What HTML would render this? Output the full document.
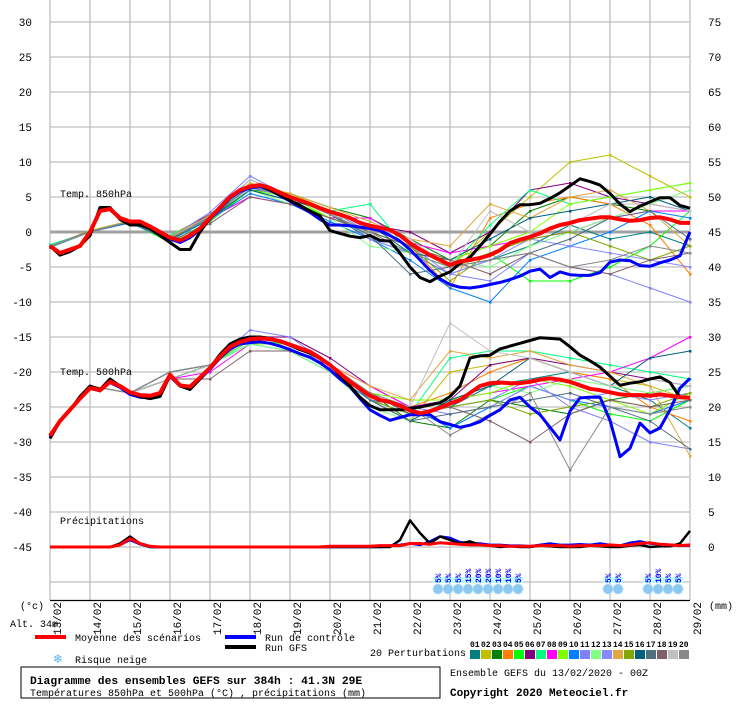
<!DOCTYPE html>
<html><head><meta charset="utf-8"><style>
body{margin:0;background:#fff;width:740px;height:700px;overflow:hidden}
svg text{font-family:"Liberation Mono",monospace;font-size:11px;fill:#000}
svg text.s{font-size:10px}
</style></head><body>
<svg id="chart" width="740" height="700" viewBox="0 0 740 700" xmlns="http://www.w3.org/2000/svg">
<g id="grid"></g>
<g id="yl"></g>
<g id="yr"></g>
<g id="xl"></g>
<g id="pert"></g>
<g id="main"></g>
<g id="snow"></g>
<text class="s" x="60" y="197">Temp. 850hPa</text>
<text class="s" x="60" y="375">Temp. 500hPa</text>
<text class="s" x="60" y="524">Précipitations</text>
<text class="s" x="20" y="609">(°c)</text>
<text class="s" x="10" y="627">Alt. 34m</text>
<text class="s" x="709" y="609">(mm)</text>
<g>
<rect x="35" y="635" width="31" height="4" fill="#ff0000"/>
<text class="s" x="75" y="641">Moyenne des scénarios</text>
<rect x="225" y="635" width="31" height="4" fill="#0000ff"/>
<text class="s" x="265" y="641">Run de contrôle</text>
<rect x="225" y="645" width="31" height="4" fill="#000"/>
<text class="s" x="265" y="651">Run GFS</text>
<text x="53" y="663" style="font-family:'DejaVu Sans';font-size:12px;fill:#5ab0f0">❄</text>
<text class="s" x="75" y="663">Risque neige</text>
<text class="s" x="370" y="656">20 Perturbations</text>
<g id="pbox"></g>
</g>
<rect x="21" y="667" width="419" height="31" fill="none" stroke="#000"/>
<text x="30" y="684" style="font-weight:bold;font-size:11.3px">Diagramme des ensembles GEFS sur 384h : 41.3N 29E</text>
<text class="s" x="30" y="696">Températures 850hPa et 500hPa (°C) , précipitations (mm)</text>
<text class="s" x="450" y="676">Ensemble GEFS du 13/02/2020 - 00Z</text>
<text x="450" y="696" style="font-weight:bold;font-size:11px">Copyright 2020 Meteociel.fr</text>
</svg>
<script>
const dates=["13/02","14/02","15/02","16/02","17/02","18/02","19/02","20/02","21/02","22/02","23/02","24/02","25/02","26/02","27/02","28/02","29/02"];
const leftTicks=[30,25,20,15,10,5,0,-5,-10,-15,-20,-25,-30,-35,-40,-45];
const rightTicks=[75,70,65,60,55,50,45,40,35,30,25,20,15,10,5,0];
const colors=["#008080","#c0c000","#008000","#ff8000","#00ff00","#800080","#00ff80","#ff00ff","#80ff00","#0080ff","#8080ff","#80ff80","#8888ff","#e0a840","#80a800","#006080","#507080","#806068","#c0c0c0","#888888"];
const mean850=[-2,-3,-2.5,-2,0,3,3.3,2,1.5,1.5,0.8,0,-0.8,-1.2,-0.5,0.5,2,3.5,5,6,6.5,6.7,6.3,5.6,5,4.5,4,3.4,2.9,2.5,2,1.3,0.9,0.6,0.3,-0.5,-1.6,-2.5,-3.3,-4,-4.7,-4.2,-4,-3.7,-3.3,-2.6,-1.6,-1.1,-0.7,-0.2,0.5,1,1.3,1.7,1.9,2.1,2.1,1.8,1.6,1.7,2,2.1,1.8,1.3,1.3];
const ctrl850=[-2,-3,-2.6,-2,0,3,3.2,1.9,1.4,1.4,0.7,-0.2,-1,-1.5,-0.8,0.3,1.8,3.3,4.8,5.8,6.3,6.5,6,5.2,4.4,3.6,2.8,1.8,1,1,0.9,0.7,0.5,0.2,-0.5,-1.3,-2.5,-4,-5.5,-6.7,-7.5,-7.9,-8,-7.8,-7.5,-7.2,-6.8,-6.3,-5.6,-5.3,-6.5,-5.7,-6.1,-6.2,-6.2,-5.8,-4.3,-4,-4.1,-4.8,-4.9,-4.4,-4,-3.4,0];
const gfs850=[-2,-3.3,-2.8,-2,-0.5,3.5,3.5,1.8,1,1,0.5,-0.5,-1.5,-2.5,-2.5,0,2,3.5,5,6,6.5,6.7,6,5.3,4.5,3.8,3,2.3,0.2,-0.2,-0.6,-0.8,-0.5,-1.2,-1.3,-3,-5,-6.5,-7.1,-6.3,-5.7,-4.5,-3.6,-2,-0.3,1.5,3,3.9,3.9,4.1,4.8,5.6,6.6,7.6,7.2,6.7,5.5,4,2.9,3.7,4.3,4.9,4.9,3.8,3.4];
const mean500=[-29.1,-27,-25.4,-23.8,-22.3,-22.6,-21.4,-22,-22.9,-23.3,-23.4,-23,-20.4,-21.9,-22.1,-20.8,-19.4,-17.8,-16.4,-15.7,-15.3,-15.2,-15.3,-15.6,-16.1,-16.6,-17.1,-18,-19,-20.2,-21.4,-22.4,-23.4,-24,-24.3,-24.8,-25.5,-25.9,-25.6,-25.1,-24.5,-24,-23,-22,-21.6,-21.5,-21.6,-21.6,-21.4,-21.1,-20.9,-21.1,-21.4,-21.9,-22.4,-22.6,-22.9,-23.2,-23.3,-23.3,-23.4,-23.2,-23.4,-23.6,-23.7];
const ctrl500=[-29.3,-27,-25.4,-23.8,-22.3,-22.7,-21.5,-22.2,-23.2,-23.6,-23.7,-23.2,-20.6,-22,-22.3,-21,-19.6,-18,-16.7,-16,-15.8,-15.7,-15.9,-16.3,-16.8,-17.4,-17.9,-18.7,-19.7,-21,-22.1,-23.8,-25.4,-26.2,-26.9,-26.5,-26.1,-26.1,-26.1,-27.1,-27.5,-27.9,-27.6,-27.1,-26.2,-25.4,-24,-23.6,-25,-26.1,-27.9,-29.7,-25.6,-23.7,-23.6,-23.6,-26.9,-32.1,-30.9,-27.3,-28.7,-28,-25.4,-22.3,-20.9];
const gfs500=[-29.5,-27,-25.5,-23.5,-22,-22.5,-21,-22,-23,-23.5,-23.8,-23.5,-20.5,-22,-22.5,-21,-19.4,-17.5,-16,-15.3,-15,-15,-15.2,-15.6,-16.2,-16.8,-17.3,-18,-18.9,-20.5,-22,-23.6,-24.8,-25.4,-25.4,-25.4,-25.2,-25,-24.7,-24.4,-23.5,-22,-18,-17.7,-17.6,-16.7,-16.3,-15.9,-15.5,-15.1,-15.2,-15.3,-16.4,-17.6,-18.4,-19.3,-20.6,-21.9,-21.6,-21.4,-21,-20.7,-21.5,-23.6,-23.6];
const meanPrec=[0,0,0,0,0,0,0,0.3,1.2,0.5,0.1,0,0,0,0,0,0,0,0,0,0,0,0,0,0,0,0,0,0.1,0.1,0.1,0.1,0.1,0.2,0.2,0.2,0.5,0.5,0.4,0.6,0.5,0.4,0.3,0.3,0.2,0.2,0.1,0.1,0.1,0.2,0.2,0.2,0.1,0.2,0.2,0.2,0.3,0.2,0.3,0.5,0.6,0.4,0.3,0.2,0.3];
const ctrlPrec=[0,0,0,0,0,0,0,0.3,1,0.4,0,0,0,0,0,0,0,0,0,0,0,0,0,0,0,0,0,0,0,0,0,0,0,0,0.2,0.3,0.5,0.3,0.8,1.5,1.3,0.7,0.5,0.5,0.3,0.3,0.2,0.2,0.1,0.3,0.5,0.3,0.3,0.4,0.3,0.5,0.3,0.2,0.6,0.8,0.5,0.4,0.3,0.2,0.2];
const gfsPrec=[0,0,0,0,0,0,0,0.5,1.5,0.5,0,0,0,0,0,0,0,0,0,0,0,0,0,0,0,0,0,0,0,0,0,0,0,0,0,1,3.8,2,0.5,1.5,1,0.5,0.8,0.3,0.2,0,0.1,0,0,0.2,0.1,0,0,0,0.2,0.1,0,0,0.2,0.3,0,0.1,0.1,0.5,2.3];
const pert850=[
[-2,0,1.4,-1,2.2,7.5,5,2.5,-1,-3,-6,-4,-2,1,-1,0,-2],
[-2,0.2,1.6,-0.5,2.5,7,5.5,3,1,-2,-5,0,5,10,11,8,5],
[-2.2,0,1.5,-1,1.8,6,5.5,3.5,2,-1,-4,-2,3,5,4,3,3],
[-2,0,1.5,-0.8,2,6.5,5,2.5,1,-2,-8,2,4,5,4,1,-6],
[-2.1,0.1,1.4,-1.5,1.5,6,4.5,2,0,-3,-5,-3,-7,-7,-5,-2,3],
[-2,0,1.5,-0.6,2.5,6.8,5,3,1,0,-3,0,6,7,5,4,3],
[-1.8,0,1.6,-0.5,2.3,6.5,5.2,3,4,-3,-5,1,6,4,5,6,7],
[-2,0.1,1.5,-0.8,2,5,4,2,2,-1.5,-3,-2,-1,0,2,3,3],
[-2,0,1.5,-1,2,6,5,2,0,-2,-4,-2,0,4,5,6,7],
[-2.2,0,1.3,-1.2,1.8,5.5,4,1.5,-1,-4,-8,-10,-4,-2,0,3,2],
[-2,0,1.6,-0.8,2.8,8,5,3,-1,-3,-6,-7,-3,-5,-6,-8,-10],
[-2,0,1.5,-1,2,6,4,2,-2,-3,-4,-5,-2,0,2,4,6],
[-2,0,1.5,-0.9,2.2,6.3,5,3,0,-2,-6,-4,-1,-2,-3,-4,-5],
[-2.1,0,1.6,-0.7,2.4,7,5.5,3.5,1.5,-1,-2,4,2,5,6,3,-2],
[-2,0,1.5,-1.1,2,6.5,5,2.5,0,-2,-7,-3,-1,0,-2,-4,-2],
[-2,0,1.4,-1,2,6,4.5,3,1,-3,-4,-1,2,3,4,5,3],
[-2,0.1,1.5,-0.8,2.1,6.5,5,2.5,-0.5,-6,-5,-4,-3,-1,2,3,-1],
[-2,0,1.5,-1.3,1.2,5,4,2,0,-2,-4,-6,-3,-5,-6,-4,-3],
[-2,0,1.5,-0.8,2,7.5,5,2.5,1,-1,-5,3,0,1,4,4,3],
[-2,0,1.5,-0.9,2,6.5,5,2.5,0,-3,-5,-4,-3,-5,-4,-2,-3]];
const pert500=[
[-29,-22,-23,-21,-19,-15,-16,-19,-24,-26,-25,-22,-21,-20,-22,-24,-28],
[-29,-22,-23,-21,-19,-15,-16,-19,-23,-27,-20,-19,-18,-20,-21,-22,-24],
[-29,-22,-23,-20,-19,-15,-16,-19,-23,-27,-28,-24,-25,-26,-24,-23,-22],
[-29,-22,-23,-20,-19,-15,-16,-19,-24,-25,-23,-20,-18,-20,-21,-25,-27],
[-29,-22,-23,-20,-19,-15.5,-16,-19,-23,-26,-25,-24,-22,-24,-26,-27,-24],
[-29,-22,-23,-21,-19,-15,-15,-18,-22,-25,-24,-19,-18,-19,-20,-21,-22],
[-29,-22,-23,-21,-19,-15,-16,-19,-23,-26,-18,-17,-17,-18,-19,-20,-21],
[-29,-22,-23,-21,-20,-16,-16,-19,-22,-25,-24,-23,-22,-21,-20,-18,-15],
[-29,-22,-23,-20,-19,-16,-16,-19,-23,-24,-24,-23,-21,-22,-24,-26,-23],
[-29,-22,-23,-20,-19,-16,-17,-20,-24,-25,-28,-25,-22,-24,-25,-26,-24],
[-29,-22,-23,-20,-19,-14,-15,-19,-24,-26,-25,-24,-21,-25,-27,-30,-31],
[-29,-22,-23,-21,-19,-16,-17,-20,-25,-27,-24,-22,-23,-21,-22,-23,-22],
[-29,-22,-23,-20,-19,-15,-16,-19,-23,-25,-26,-25,-22,-24,-23,-24,-23],
[-29,-22,-23,-20,-19,-15,-16,-19,-22,-24,-17,-18,-17,-19,-20,-22,-32],
[-29,-22,-23,-21,-19,-15,-16,-19,-24,-26,-25,-24,-26,-25,-24,-25,-23],
[-29,-22,-23,-21,-19,-15,-16,-19,-24,-27,-24,-22,-18,-20,-22,-18,-17],
[-29,-22,-23,-20,-19,-15,-16,-19,-24,-27,-26,-25,-24,-23,-25,-27,-31],
[-29,-22,-23,-21,-21,-17,-17,-19,-23,-26,-25,-27,-30,-26,-24,-25,-24],
[-29,-22,-23,-21,-19,-15,-16,-19,-23,-25,-13,-17,-18,-20,-22,-21,-22],
[-29,-22,-23,-20,-19,-15,-16,-19,-23,-25,-29,-26,-23,-34,-25,-26,-25]];
const snowSlots=[39,40,41,42,43,44,45,46,47,56,57,60,61,62,63];
const snowPct=["5%","5%","5%","15%","20%","20%","10%","10%","5%","5%","5%","5%","10%","5%","5%"];
const boxLabels=["01","02","03","04","05","06","07","08","09","10","11","12","13","14","15","16","17","18","19","20"];

const NS="http://www.w3.org/2000/svg";
const X0=50,DAYW=40;
function xStep6(i){return X0+i*DAYW/4;}
function xDay(i){return X0+i*DAYW;}
function yT(v){return 232-7*v;}
function yP(v){return 547-7*v;}
function mk(tag,attrs,parent){const e=document.createElementNS(NS,tag);for(const k in attrs)e.setAttribute(k,attrs[k]);parent.appendChild(e);return e;}
const grid=document.getElementById('grid');
for(let i=0;i<dates.length;i++){const l=mk('line',{x1:xDay(i),x2:xDay(i),y1:0,y2:600,stroke:'#c0c0c0','stroke-width':1.3},grid);

}
for(let i=0;i<leftTicks.length+1;i++){const y=22+35*i;const l=mk('line',{x1:50,x2:690,y1:y,y2:y,stroke:'#c0c0c0','stroke-width':1.3},grid);

}
const z=mk('rect',{x:50,y:yT(0)-1.5,width:640,height:3,fill:'#a0a0a0'},grid);


const ax=mk('line',{x1:50,x2:690,y1:600.5,y2:600.5,stroke:'#000','stroke-width':1.3},grid);


const yl=document.getElementById('yl'),yr=document.getElementById('yr'),xl=document.getElementById('xl');
leftTicks.forEach(v=>{const t=mk('text',{x:32,y:yT(v)+4,'text-anchor':'end'},yl);t.textContent=v;

});
rightTicks.forEach(v=>{const t=mk('text',{x:708,y:yP(v)+4},yr);t.textContent=v;

});
dates.forEach((d,i)=>{const t=mk('text',{transform:`translate(${xDay(i)+11},602) rotate(-90)`,'text-anchor':'end'},xl);t.textContent=d;

});
function poly(vals,xf,yf,color,w,parent,name){const pts=vals.map((v,i)=>xf(i).toFixed(1)+','+yf(v).toFixed(1)).join(' ');
const p=mk('polyline',{points:pts,fill:'none',stroke:color,'stroke-width':w,'stroke-linejoin':'round'},parent);

return p;}
function dots(vals,xf,yf,color,parent){vals.forEach((v,i)=>{const r=mk('rect',{x:xf(i)-1,y:yf(v)-1,width:2.5,height:2.5,fill:color},parent);

});}
const pert=document.getElementById('pert'),main=document.getElementById('main');
pert850.forEach((s,k)=>{poly(s,xDay,yT,colors[k],1,pert,'perturbation-850-'+(k+1));dots(s,xDay,yT,colors[k],pert);});
pert500.forEach((s,k)=>{poly(s,xDay,yT,colors[k],1,pert,'perturbation-500-'+(k+1));dots(s,xDay,yT,colors[k],pert);});
poly(ctrl850,xStep6,yT,'#0000ff',3,main,'control-850');
poly(gfs850,xStep6,yT,'#000000',3,main,'gfs-850');
poly(mean850,xStep6,yT,'#ff0000',4,main,'mean-850');
poly(ctrl500,xStep6,yT,'#0000ff',3,main,'control-500');
poly(gfs500,xStep6,yT,'#000000',3,main,'gfs-500');
poly(mean500,xStep6,yT,'#ff0000',4,main,'mean-500');
poly(ctrlPrec,xStep6,yP,'#0000ff',2.5,main,'control-precip');
poly(gfsPrec,xStep6,yP,'#000000',2.5,main,'gfs-precip');
poly(meanPrec,xStep6,yP,'#ff0000',3,main,'mean-precip');
const snow=document.getElementById('snow');
snowSlots.forEach((s,i)=>{const x=xStep6(s)-2;
const b=mk('rect',{x:x-5,y:577,width:10,height:6,fill:'#c0ffff'},snow);


const c=mk('circle',{cx:x,cy:589,r:5,fill:'#8cc8f0',stroke:'#b8e0ff','stroke-width':1,'stroke-dasharray':'2 1'},snow);


const t=mk('text',{transform:`translate(${x+3},583) rotate(-90)`,style:'font-size:8px;fill:#0000ff;font-weight:bold'},snow);t.textContent=snowPct[i];

});
const pbox=document.getElementById('pbox');
boxLabels.forEach((l,i)=>{const x=470+i*11;
const r=mk('rect',{x:x,y:650,width:10,height:9,fill:colors[i]},pbox);


const t=mk('text',{x:x,y:647,style:'font-size:8px;font-weight:bold'},pbox);t.textContent=l;

});
</script>
</body></html>
